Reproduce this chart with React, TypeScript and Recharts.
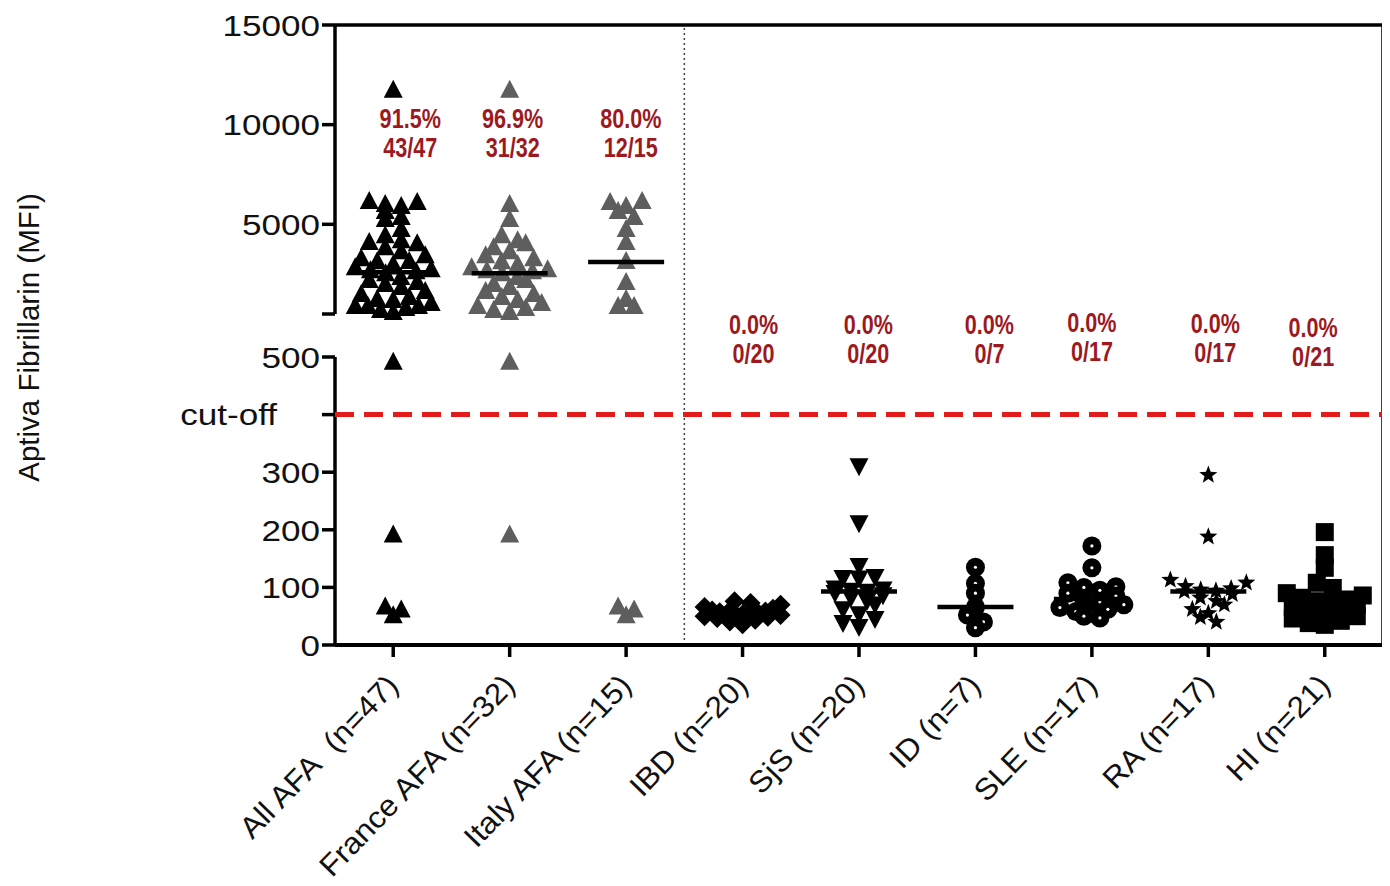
import React from 'react';
import { ScatterChart, Scatter, XAxis, YAxis, ReferenceLine } from 'recharts';

// ---------- data ----------
const categories = [
  'All AFA\u00a0 (n=47)',
  'France AFA (n=32)',
  'Italy AFA (n=15)',
  'IBD (n=20)',
  'SjS (n=20)',
  'ID (n=7)',
  'SLE (n=17)',
  'RA (n=17)',
  'HI (n=21)',
];

const franceAFA = [11700, 5970, 5220, 4400, 4150, 4000, 3800, 3600, 3400, 3250, 3100, 2950, 2800, 2700, 2650, 2600,
  2500, 2300, 2150, 1950, 1800, 1600, 1450, 1300, 1150, 1000, 850, 750, 650, 550, 490, 190];
const italyAFA = [6120, 6070, 5870, 5620, 5320, 4710, 4060, 3110, 2060, 1200, 850, 850, 65, 50, 60];
const allAFA = [...franceAFA, ...italyAFA];
const ibd = [76, 73, 70, 66, 63, 60, 58, 57, 56, 55, 55, 54, 53, 52, 50, 49, 47, 44, 41, 36];
const sjs = [312, 213, 139, 120, 118, 117, 100, 98, 96, 94, 92, 88, 84, 78, 72, 64, 55, 47, 40, 33];
const idGroup = [135, 107, 90, 66, 52, 40, 30];
const sle = [172, 134, 108, 101, 100, 95, 90, 85, 80, 75, 70, 65, 62, 58, 55, 50, 47];
const ra = [295, 188, 113, 108, 102, 98, 96, 94, 93, 88, 82, 76, 70, 62, 55, 48, 40];
const hi = [196, 156, 134, 108, 99, 90, 86, 82, 79, 76, 73, 70, 66, 62, 58, 54, 50, 46, 42, 38, 35];

const groups = [allAFA, franceAFA, italyAFA, ibd, sjs, idGroup, sle, ra, hi];

const positivity = ['91.5%', '96.9%', '80.0%', '0.0%', '0.0%', '0.0%', '0.0%', '0.0%', '0.0%'];
const ratios = ['43/47', '31/32', '12/15', '0/20', '0/20', '0/7', '0/17', '0/17', '0/21'];

const CUTOFF = 400;
const lowerTicks = [0, 100, 200, 300, 500];
const upperTicks = [5000, 10000, 15000];

// ---------- styles ----------
const markerTypes = ['triangle', 'triangle', 'triangle', 'diamond', 'triangleDown', 'circle', 'circle', 'star', 'square'];
const markerColors = ['#000000', '#5e5e5e', '#5e5e5e', '#000000', '#000000', '#000000', '#000000', '#000000', '#000000'];
// annotation anchors (category offset, display units)
const annoDx = [0.146, 0.026, 0.04, 0.094, 0.08, 0.12, 0.0, 0.06, -0.1];
const annoY = [517, 517, 517, 311, 311, 311, 313, 312, 308];

// ---------- layout ----------
const CHART_W = 1382;
const CHART_H = 878;
const MARGIN = { top: 17, right: 7, left: 27, bottom: 41 };
const YAXIS_W = 300;
const XAXIS_H = 200;
const PLOT_W = CHART_W - MARGIN.left - MARGIN.right - YAXIS_W; // 1048
const PX_PER_CAT = PLOT_W / categories.length;
const MEDIAN_HALF_PX = 38;

// broken axis: lower 0..500, gap, upper 500..15000 (display units = plot pixels)
const BREAK = 500;
const TOP = 15000;
const LOWER_PX = 288;
const GAP_PX = 43;
const UPPER_PX = 289;
const DISPLAY_MAX = LOWER_PX + GAP_PX + UPPER_PX; // 620

const toDisplay = (v: number) =>
  v <= BREAK ? (v / BREAK) * LOWER_PX : LOWER_PX + GAP_PX + ((v - BREAK) / (TOP - BREAK)) * UPPER_PX;
const UPPER_START = LOWER_PX + GAP_PX;

const tickDefs: { d: number; label: string }[] = [
  ...lowerTicks.map((t) => ({ d: toDisplay(t), label: String(t) })),
  { d: toDisplay(CUTOFF), label: 'cut-off' },
  { d: UPPER_START, label: '' },
  ...upperTicks.map((t) => ({ d: toDisplay(t), label: String(t) })),
];
const tickLabel = new Map(tickDefs.map((t) => [t.d.toFixed(2), t.label]));

const median = (arr: number[]) => {
  const s = [...arr].sort((a, b) => a - b);
  const n = s.length;
  return n % 2 ? s[(n - 1) / 2] : (s[n / 2 - 1] + s[n / 2]) / 2;
};

// GraphPad-like row layout: points in the same pixel band are spread side by side
function rowOffsets(values: number[], binH: number, spacing: number, maxHalf: number): number[] {
  const bins = new Map<number, number[]>();
  values.forEach((v, i) => {
    const b = Math.round(toDisplay(v) / binH);
    if (!bins.has(b)) bins.set(b, []);
    bins.get(b)!.push(i);
  });
  const out = new Array(values.length).fill(0);
  bins.forEach((idxs) => {
    const n = idxs.length;
    const s = n > 1 ? Math.min(spacing, (2 * maxHalf) / (n - 1)) : 0;
    const sorted = [...idxs].sort((a, b) => values[a] - values[b]);
    const arranged: number[] = [];
    sorted.forEach((idx, k) => (k % 2 === 0 ? arranged.push(idx) : arranged.unshift(idx)));
    arranged.forEach((idx, k) => {
      out[idx] = (k - (n - 1) / 2) * s;
    });
  });
  return out;
}

const seriesData = groups.map((vals, gi) => {
  const offs = rowOffsets(vals, 12, 16, 38);
  return vals.map((v, i) => ({ x: gi + 1 + offs[i] / PX_PER_CAT, y: toDisplay(v) }));
});

const medianData = groups.map((vals, gi) => ({ x: gi + 1, y: toDisplay(median(vals)) }));

const annoData = categories.map((_, i) => ({ x: i + 1 + annoDx[i], y: annoY[i], i }));

const FONT = '"Liberation Sans", Arial, sans-serif';

function makeShape(type: string, color: string) {
  return (props: any) => {
    const { cx, cy } = props;
    if (cx == null || cy == null) return <g />;
    switch (type) {
      case 'triangle':
        return <polygon points={`${cx},${cy - 11} ${cx - 9.5},${cy + 7} ${cx + 9.5},${cy + 7}`} fill={color} />;
      case 'triangleDown':
        return <polygon points={`${cx},${cy + 11} ${cx - 9.5},${cy - 7} ${cx + 9.5},${cy - 7}`} fill={color} />;
      case 'diamond':
        return <polygon points={`${cx},${cy - 10} ${cx + 10},${cy} ${cx},${cy + 10} ${cx - 10},${cy}`} fill={color} />;
      case 'square':
        return <rect x={cx - 9} y={cy - 9} width={18} height={18} fill={color} />;
      case 'circle':
        return (
          <g>
            <circle cx={cx} cy={cy} r={9.5} fill={color} />
            <circle cx={cx} cy={cy} r={1.6} fill="#ffffff" />
          </g>
        );
      case 'star': {
        const pts: string[] = [];
        for (let k = 0; k < 10; k++) {
          const r = k % 2 === 0 ? 9.5 : 4;
          const a = -Math.PI / 2 + (k * Math.PI) / 5;
          pts.push(`${cx + r * Math.cos(a)},${cy + r * Math.sin(a)}`);
        }
        return <polygon points={pts.join(' ')} fill={color} />;
      }
      default:
        return <circle cx={cx} cy={cy} r={9} fill={color} />;
    }
  };
}

const MedianShape = (props: any) => {
  const { cx, cy } = props;
  if (cx == null || cy == null) return <g />;
  return <line x1={cx - MEDIAN_HALF_PX} x2={cx + MEDIAN_HALF_PX} y1={cy} y2={cy} stroke="#000" strokeWidth={4.5} />;
};

const AnnoShape = (props: any) => {
  const { cx, cy, payload } = props;
  if (cx == null || cy == null) return <g />;
  const i = payload.i;
  return (
    <g transform={`translate(${cx},${cy}) scale(0.8,1)`}>
      <text x={0} y={0} textAnchor="middle" fontFamily={FONT} fontWeight="bold" fontSize={27} fill="#9c1a1f">
        {positivity[i]}
      </text>
      <text x={0} y={29} textAnchor="middle" fontFamily={FONT} fontWeight="bold" fontSize={27} fill="#9c1a1f">
        {ratios[i]}
      </text>
    </g>
  );
};

const YTick = (props: any) => {
  const { x, y, payload } = props;
  const lab = tickLabel.get(Number(payload.value).toFixed(2)) ?? '';
  const shift = lab === 'cut-off' ? -43 : 0;
  return (
    <text
      transform={`translate(${x + shift},${y}) scale(1.17,1)`}
      textAnchor="end"
      dy="0.36em"
      fontFamily={FONT}
      fontSize={30}
      fill="#111"
    >
      {lab}
    </text>
  );
};

const XTick = (props: any) => {
  const { x, y, payload } = props;
  const lab = categories[Math.round(payload.value) - 1] ?? '';
  return (
    <text
      transform={`translate(${x + 7},${y + 28}) rotate(-46) scale(1.06,1)`}
      textAnchor="end"
      fontFamily={FONT}
      fontSize={30}
      fill="#111"
    >
      {lab}
    </text>
  );
};

const renderYTitle = (props: any) => {
  const vb = props.viewBox || { x: MARGIN.left, y: MARGIN.top, width: YAXIS_W, height: DISPLAY_MAX };
  const tx = vb.x + 4;
  const ty = vb.y + vb.height / 2 + 2.5;
  return (
    <text
      transform={`translate(${tx},${ty}) rotate(-90)`}
      textAnchor="middle"
      fontFamily={FONT}
      fontSize={29.5}
      fill="#111"
    >
      Aptiva Fibrillarin (MFI)
    </text>
  );
};

export default function App() {
  const catTicks = categories.map((_, i) => i + 1);
  return (
    <div style={{ width: CHART_W, height: CHART_H }}>
      <ScatterChart width={CHART_W} height={CHART_H} margin={MARGIN}>
        <XAxis
          type="number"
          dataKey="x"
          domain={[0.5, categories.length + 0.5]}
          ticks={catTicks}
          interval={0}
          tick={<XTick />}
          tickSize={12}
          tickLine={{ stroke: '#000', strokeWidth: 3.5 }}
          axisLine={{ stroke: '#000', strokeWidth: 4 }}
          height={XAXIS_H}
          allowDataOverflow
        />
        <YAxis
          type="number"
          dataKey="y"
          domain={[0, DISPLAY_MAX]}
          ticks={tickDefs.map((t) => t.d)}
          interval={0}
          tick={<YTick />}
          tickSize={13}
          tickLine={{ stroke: '#000', strokeWidth: 3.5 }}
          axisLine={false}
          width={YAXIS_W}
          allowDataOverflow
          label={renderYTitle}
        />
        {/* broken y axis */}
        <ReferenceLine segment={[{ x: 0.5, y: 0 }, { x: 0.5, y: toDisplay(BREAK) }]} stroke="#000" strokeWidth={3.5} />
        <ReferenceLine segment={[{ x: 0.5, y: UPPER_START }, { x: 0.5, y: DISPLAY_MAX }]} stroke="#000" strokeWidth={3.5} />
        {/* frame */}
        <ReferenceLine y={DISPLAY_MAX} stroke="#000" strokeWidth={3.5} />
        <ReferenceLine x={categories.length + 0.5} stroke="#000" strokeWidth={3.5} />
        {/* separator */}
        <ReferenceLine x={3.5} stroke="#444" strokeWidth={1.5} strokeDasharray="2 3" />
        {/* cut-off */}
        <ReferenceLine y={toDisplay(CUTOFF)} stroke="#e41b1b" strokeWidth={5} strokeDasharray="19 10" />

        {seriesData.map((d, gi) => (
          <Scatter
            key={gi}
            data={d}
            dataKey="y"
            isAnimationActive={false}
            shape={makeShape(markerTypes[gi], markerColors[gi])}
          />
        ))}

        <Scatter data={medianData} dataKey="y" isAnimationActive={false} shape={MedianShape} />
        <Scatter data={annoData} dataKey="y" isAnimationActive={false} shape={AnnoShape} />
      </ScatterChart>
    </div>
  );
}
